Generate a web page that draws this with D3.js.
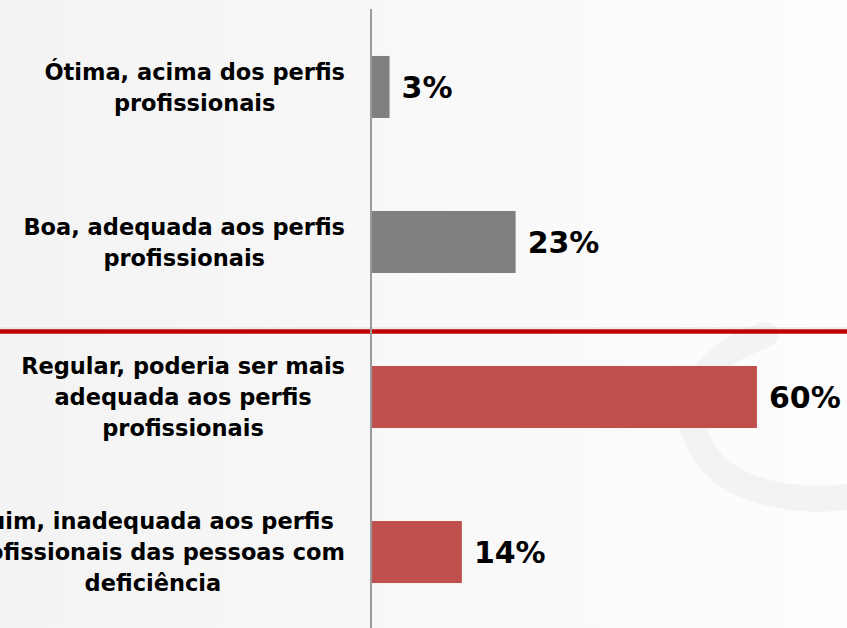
<!DOCTYPE html>
<html>
<head>
<meta charset="utf-8">
<script src="https://cdn.jsdelivr.net/npm/d3@7"></script>
<style>
  html, body { margin: 0; padding: 0; background: #fafafa; }
  svg { display: block; }
</style>
</head>
<body>
<svg id="chart"></svg>
<script>
// data
const categories = ["otima", "boa", "regular", "ruim"];
const categoryLines = [
  ["Ótima, acima dos perfis", "profissionais"],
  ["Boa, adequada aos perfis", "profissionais"],
  ["Regular, poderia ser mais", "adequada aos perfis", "profissionais"],
  ["Ruim, inadequada aos perfis", "profissionais das pessoas com", "deficiência"]
];
const values = [2.9, 22.6, 60.3, 14.2];
const barColors = ["#808080", "#808080", "#C0504D", "#C0504D"];

const width = 847;
const height = 628;
const axisX = 371;

const svg = d3.select("#chart")
  .attr("width", width)
  .attr("height", height);

// soft background
const defs = svg.append("defs");
const grad = defs.append("linearGradient")
  .attr("id", "bg")
  .attr("x1", "0").attr("x2", "1").attr("y1", "0").attr("y2", "0");
grad.append("stop").attr("offset", "0%").attr("stop-color", "#f3f3f3");
grad.append("stop").attr("offset", "45%").attr("stop-color", "#f8f8f8");
grad.append("stop").attr("offset", "100%").attr("stop-color", "#fdfdfd");

svg.append("rect")
  .attr("width", width)
  .attr("height", height)
  .attr("fill", "url(#bg)");

// faint watermark curve
svg.append("path")
  .attr("d", "M765,335 C705,355 675,400 700,445 C725,495 800,505 860,495")
  .attr("fill", "none")
  .attr("stroke", "#f3f3f3")
  .attr("stroke-width", 26)
  .attr("stroke-linecap", "round");

const y = d3.scaleBand()
  .domain(categories)
  .range([11, height])
  .paddingInner(0.6)
  .paddingOuter(0.29);

const x = d3.scaleLinear()
  .domain([0, 100])
  .range([axisX, axisX + 640]);

// separator between positive and negative answers
const sepY = (y("boa") + y.bandwidth() + y("regular")) / 2 + 12;
svg.append("line")
  .attr("x1", 0).attr("x2", width)
  .attr("y1", sepY - 3.5).attr("y2", sepY - 3.5)
  .attr("stroke", "#dcdcdc")
  .attr("stroke-width", 1);
svg.append("line")
  .attr("x1", 0).attr("x2", width)
  .attr("y1", sepY).attr("y2", sepY)
  .attr("stroke", "#C00000")
  .attr("stroke-width", 4.5);

// bars
svg.selectAll(".bar")
  .data(values)
  .enter()
  .append("rect")
  .attr("class", "bar")
  .attr("x", x(0))
  .attr("y", (d, i) => y(categories[i]))
  .attr("width", d => x(d) - x(0))
  .attr("height", y.bandwidth())
  .attr("fill", (d, i) => barColors[i]);

// vertical axis line
svg.append("line")
  .attr("x1", axisX).attr("x2", axisX)
  .attr("y1", 9).attr("y2", height)
  .attr("stroke", "#9a9a9a")
  .attr("stroke-width", 2);

// value labels
svg.selectAll(".value")
  .data(values)
  .enter()
  .append("text")
  .attr("class", "value")
  .attr("x", d => x(d) + 12)
  .attr("y", (d, i) => y(categories[i]) + y.bandwidth() / 2)
  .attr("dy", "0.36em")
  .style("font-family", "'DejaVu Sans', sans-serif")
  .style("font-weight", "bold")
  .style("font-size", "30px")
  .attr("fill", "#000")
  .text(d => d3.format(".0f")(d) + "%");

// category labels: block right aligned, lines centred inside block
const labelRight = axisX - 26;
const lineH = 31;

categoryLines.forEach((lines, i) => {
  const cy = y(categories[i]) + y.bandwidth() / 2;
  const g = svg.append("g");
  const texts = g.selectAll("text")
    .data(lines)
    .enter()
    .append("text")
    .attr("text-anchor", "middle")
    .attr("y", (d, j) => cy + (j - (lines.length - 1) / 2) * lineH)
    .attr("dy", "0.36em")
    .style("font-family", "'DejaVu Sans', sans-serif")
    .style("font-weight", "bold")
    .style("font-size", "22.5px")
    .attr("fill", "#000")
    .text(d => d);
  let maxW = 0;
  texts.each(function () {
    maxW = Math.max(maxW, this.getComputedTextLength());
  });
  texts.attr("x", labelRight - maxW / 2);
});
</script>
</body>
</html>
